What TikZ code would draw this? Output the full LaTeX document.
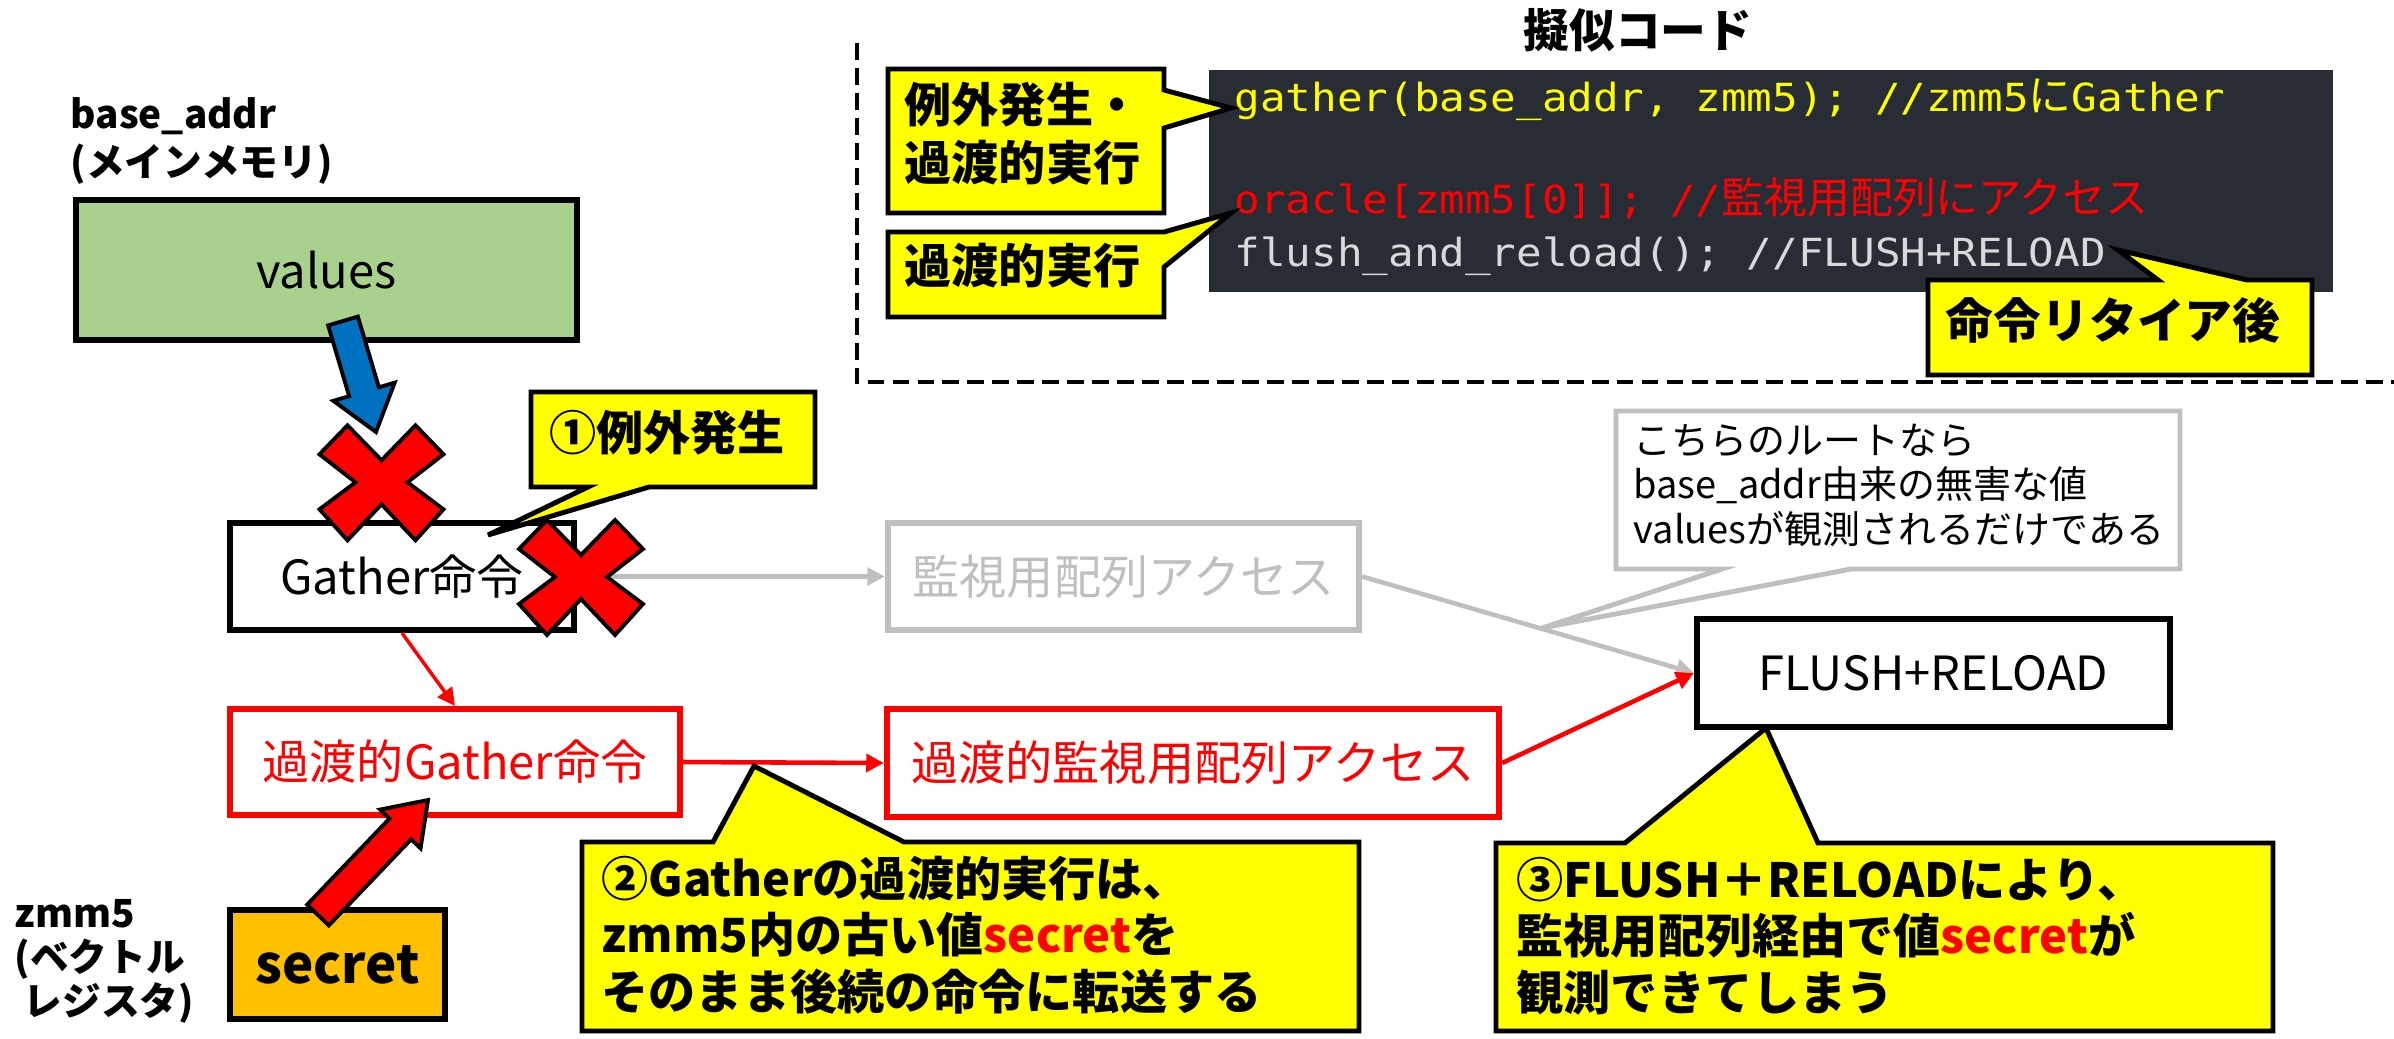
\documentclass[tikz,border=0pt]{standalone}
\usepackage{fontspec}
\setmainfont{Noto Sans CJK JP}
\newfontfamily\codefont[FakeStretch=1.10]{DejaVu Sans Mono}
\usetikzlibrary{arrows.meta,calc}
\definecolor{gfill}{HTML}{A9D18E}
\definecolor{ofill}{HTML}{FFC000}
\definecolor{yfill}{HTML}{FFFF00}
\definecolor{lgray}{HTML}{BFBFBF}
\definecolor{cred}{HTML}{FF0000}
\definecolor{cblue}{HTML}{0070C0}
\definecolor{codebg}{HTML}{282C34}
\definecolor{codey}{HTML}{FFFF00}
\definecolor{codew}{HTML}{D9D9D9}
\newcommand\fsreg{\fontsize{13.4pt}{16pt}\selectfont}
\newcommand\fsbold{\fontsize{13.4pt}{16.1pt}\selectfont\bfseries}
\newcommand\fsnote{\fontsize{10.8pt}{12.7pt}\selectfont}
\newcommand\fscode{\fontsize{11pt}{13pt}\selectfont\codefont}
\newcommand\cjkcode{\fontsize{12.2pt}{13pt}\selectfont\rmfamily}
\newcommand\blockarrow[6]{%
  \coordinate (ba-h) at ($(#2)!#5!(#1)$);
  \draw[line width=1.1pt, fill=#6, line join=miter]
    ($(#1)!#3!90:(#2)$) -- ($(ba-h)!#3!90:(#2)$) -- ($(ba-h)!#4!90:(#2)$) -- (#2)
    -- ($(ba-h)!#4!-90:(#2)$) -- ($(ba-h)!#3!-90:(#2)$) -- ($(#1)!#3!-90:(#2)$) -- cycle;}
\newcommand\redcross[1]{%
  \draw[line width=1.1pt, fill=cred, line join=miter, shift={#1}]
    (-62,-28) -- (-34,-57) -- (0,-22) -- (34,-57) -- (62,-28) -- (26,0) --
    (62,27) -- (34,58) -- (0,22) -- (-34,58) -- (-62,27) -- (-26,0) -- cycle;}
\tikzset{
  box/.style={draw, line width=1.7pt, inner sep=0pt, align=center, font=\fsreg},
  callout/.style={draw, line width=1.4pt, fill=yfill, line join=miter},
  ctext/.style={inner sep=0pt, align=left, anchor=west, font=\fsbold},
  codeline/.style={anchor=base west, inner sep=0pt},
  redarr/.style={draw=cred, line width=1.3pt, -{Triangle[length=5pt,width=5pt]}},
  grayarr/.style={draw=lgray, line width=1.3pt, -{Triangle[length=5pt,width=5pt]}},
}
\begin{document}
\begin{tikzpicture}[x=0.01cm, y=-0.01cm]
\useasboundingbox[fill=white] (0,0) rectangle (2394,1038);

% dashed frame of pseudo code area
\draw[line width=1.3pt, dash pattern=on 4.8pt off 2.3pt] (857,43) -- (857,382) -- (2394,382);
\node[font=\fontsize{13pt}{15pt}\selectfont\bfseries, inner sep=0pt] (title) at (1638,30) {擬似コード};

% code block
\node[fill=codebg, minimum width=11.24cm, minimum height=2.22cm, inner sep=0pt] (code) at (1771,181) {};
\node[codeline, text=codey] (code1) at (1234,111) {\fscode gather(base\_addr, zmm5); //zmm5{\cjkcode に}Gather};
\node[codeline, text=cred] (code2) at (1234,213) {\fscode oracle[zmm5[0]]; //{\cjkcode 監視用配列にアクセス}};
\node[codeline, text=codew] (code3) at (1234,266) {\fscode flush\_and\_reload(); //FLUSH+RELOAD};

% labels
\node[inner sep=0pt, align=left, anchor=west, font=\fontsize{11pt}{13.4pt}\selectfont\bfseries] (balabel) at (70,141) {base\_addr\\(メインメモリ)};
\node[inner sep=0pt, align=left, anchor=west, font=\fontsize{11pt}{12.5pt}\selectfont\bfseries] (zmmlabel) at (14,961) {zmm5\\(ベクトル\\\hspace*{0.09cm}レジスタ)};

% boxes
\node[box, fill=gfill, minimum width=5.01cm, minimum height=1.40cm] (values) at (326.5,270) {values};
\node[box, fill=white, minimum width=3.44cm, minimum height=1.07cm] (gather) at (402,576.5) {Gather命令};
\node[box, draw=cred, text=cred, fill=white, minimum width=4.50cm, minimum height=1.06cm] (tgather) at (455,762) {過渡的Gather命令};
\node[box, fill=ofill, minimum width=2.15cm, minimum height=1.09cm, font=\fontsize{15pt}{17pt}\selectfont\bfseries] (secret) at (337.5,964.5) {secret};
\node[box, draw=lgray, text=lgray, fill=white, minimum width=4.71cm, minimum height=1.07cm] (mon) at (1123.5,576.5) {監視用配列アクセス};
\node[box, draw=cred, text=cred, fill=white, minimum width=6.12cm, minimum height=1.08cm] (tmon) at (1193,763) {過渡的監視用配列アクセス};
\node[box, fill=white, minimum width=4.73cm, minimum height=1.08cm] (flush) at (1933.5,673) {FLUSH+RELOAD};

% connectors
\draw[redarr, line width=1pt] (gather.south) -- (tgather.north);
\draw[grayarr] (gather.east) -- (mon.west);
\draw[grayarr] (mon.east) -- (flush.west);
\draw[redarr] (tgather.east) -- (tmon.west);
\draw[redarr] (tmon.east) -- (flush.west);

% block arrows
\coordinate (bluetail) at (343,321);
\coordinate (bluetip) at (376,432);
\blockarrow{bluetail}{bluetip}{0.155cm}{0.32cm}{0.42cm}{cblue}
\coordinate (redtail) at (318,915);
\coordinate (redtip) at (428,800);
\blockarrow{redtail}{redtip}{0.15cm}{0.28cm}{0.40cm}{cred}

% crosses
\redcross{(381.5,482.3)}
\redcross{(581,577)}

% callouts
\draw[callout] (531,392) -- (815,392) -- (815,487) -- (649,487) -- (488,535) -- (588,487) -- (531,487) -- cycle;
\node[ctext, anchor=center] (t1) at (667,433) {①例外発生};

\draw[callout] (888,69) -- (1164,69) -- (1164,90) -- (1231,108) -- (1164,128) -- (1164,213) -- (888,213) -- cycle;
\node[ctext, font=\fontsize{13.4pt}{16.5pt}\selectfont\bfseries] (tA) at (904,134) {例外発生・\\過渡的実行};

\draw[callout] (888,232) -- (1164,232) -- (1231,213) -- (1164,267) -- (1164,317) -- (888,317) -- cycle;
\node[ctext] (tB) at (904,266) {過渡的実行};

\draw[callout] (1928,280) -- (2158,280) -- (2118,250) -- (2247,280) -- (2312,280) -- (2312,375) -- (1928,375) -- cycle;
\node[ctext, font=\fontsize{13.6pt}{16pt}\selectfont\bfseries] (tC) at (1945,320) {命令リタイア後};

\draw[callout, draw=lgray, fill=white] (1616,411) -- (2180,411) -- (2180,569) -- (1851,569) -- (1542,628) -- (1722,569) -- (1616,569) -- cycle;
\node[ctext, font=\fsnote] (tg) at (1633,485) {こちらのルートなら\\base\_addr由来の無害な値\\valuesが観測されるだけである};

\draw[callout] (582,842) -- (713,842) -- (754,766) -- (904,842) -- (1359,842) -- (1359,1031) -- (582,1031) -- cycle;
\node[ctext] (t2) at (601,935) {②Gatherの過渡的実行は、\\zmm5内の古い値\textcolor{cred}{secret}を\\そのまま後続の命令に転送する};

\draw[callout] (1496,843) -- (1625,843) -- (1766,728) -- (1818,843) -- (2273,843) -- (2273,1031) -- (1496,1031) -- cycle;
\node[ctext] (t3) at (1516,936) {③FLUSH＋RELOADにより、\\監視用配列経由で値\textcolor{cred}{secret}が\\観測できてしまう};
\end{tikzpicture}
\end{document}
